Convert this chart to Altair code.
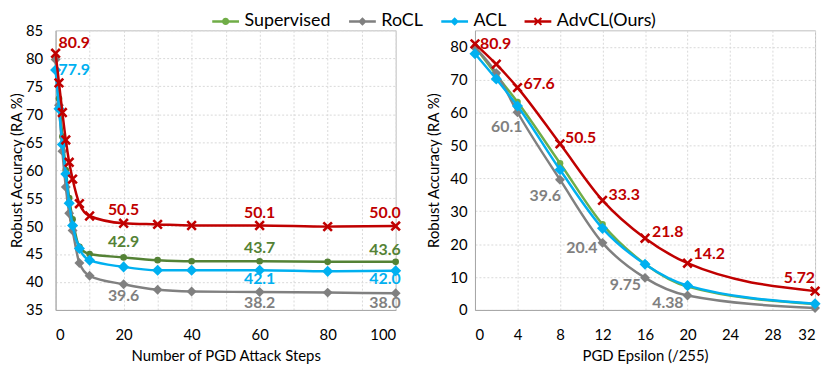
import altair as alt
import pandas as pd

series = ["Supervised", "RoCL", "ACL", "AdvCL(Ours)"]

# ---- left panel: number of PGD attack steps ----
steps = [0, 1, 2, 3, 4, 5, 7, 10, 20, 30, 40, 60, 80, 100]
steps_supervised = [80.0, 72.8, 66.0, 60.0, 55.0, 51.2, 46.3, 45.0, 44.4, 43.9, 43.7, 43.7, 43.6, 43.6]
steps_rocl = [79.8, 71.6, 63.4, 57.0, 52.3, 49.2, 43.4, 41.1, 39.6, 38.6, 38.3, 38.2, 38.1, 38.0]
steps_acl = [77.9, 71.0, 64.6, 59.3, 54.1, 50.1, 46.0, 43.9, 42.7, 42.1, 42.1, 42.1, 41.9, 42.0]
steps_advcl = [80.9, 75.6, 70.3, 65.4, 61.4, 58.4, 54.0, 51.8, 50.5, 50.3, 50.1, 50.1, 49.9, 50.0]

steps_label_series = ["AdvCL(Ours)", "ACL", "AdvCL(Ours)", "AdvCL(Ours)", "AdvCL(Ours)",
                      "Supervised", "Supervised", "Supervised", "ACL", "ACL", "RoCL", "RoCL", "RoCL"]
steps_label_x = [0, 0, 20, 60, 100, 20, 60, 100, 60, 100, 20, 60, 100]
steps_label_text = ["80.9", "77.9", "50.5", "50.1", "50.0", "42.9", "43.7", "43.6",
                    "42.1", "42.0", "39.6", "38.2", "38.0"]

# ---- right panel: PGD epsilon ----
eps = [0, 2, 4, 8, 12, 16, 20, 32]
eps_supervised = [80.0, 71.5, 63.2, 44.6, 26.0, 14.0, 7.1, 1.8]
eps_rocl = [79.8, 72.0, 60.1, 39.6, 20.4, 9.75, 4.38, 0.6]
eps_acl = [77.9, 70.2, 62.0, 42.6, 24.8, 13.9, 7.4, 1.9]
eps_advcl = [80.9, 74.7, 67.6, 50.5, 33.3, 21.8, 14.2, 5.72]

eps_label_series = ["AdvCL(Ours)"] * 7 + ["RoCL"] * 5
eps_label_x = [0, 4, 8, 12, 16, 20, 32, 4, 8, 12, 16, 20]
eps_label_text = ["80.9", "67.6", "50.5", "33.3", "21.8", "14.2", "5.72",
                  "60.1", "39.6", "20.4", "9.75", "4.38"]

# ---- styles ----
FONT = "Lato"
legend_colors = ["#70AD47", "#808080", "#00B0F0", "#C00000"]
left_colors = ["#548235", "#808080", "#00B0F0", "#C00000"]
right_colors = ["#70AD47", "#808080", "#00B0F0", "#C00000"]
label_colors = {"Supervised": "#548235", "RoCL": "#808080", "ACL": "#00B0F0", "AdvCL(Ours)": "#C00000"}

X_PATH = ("M-1,-0.65L-0.65,-1L0,-0.35L0.65,-1L1,-0.65L0.35,0L1,0.65L0.65,1L0,0.35"
          "L-0.65,1L-1,0.65L-0.35,0Z")
point_style = {
    "Supervised": dict(shape="circle", size=45),
    "RoCL": dict(shape="diamond", size=100),
    "ACL": dict(shape="diamond", size=125),
    "AdvCL(Ours)": dict(shape=X_PATH, size=110),
}

# legend symbol paths (line + marker), written in pixels, scaled to symbol radius
LEG_R = 5.0


def fmt(v):
    return f"{v / LEG_R:.3f}"


def poly(pts):
    return "M" + "L".join(f"{fmt(x)},{fmt(y)}" for x, y in pts) + "Z"


bar = poly([(-13.5, -1.25), (13.5, -1.25), (13.5, 1.25), (-13.5, 1.25)])
circ_r = 3.6
circle = (f"M{fmt(-circ_r)},0A{fmt(circ_r)},{fmt(circ_r)} 0 1,1 {fmt(circ_r)},0"
          f"A{fmt(circ_r)},{fmt(circ_r)} 0 1,1 {fmt(-circ_r)},0Z")
diamond = poly([(0, -4.3), (4.3, 0), (0, 4.3), (-4.3, 0)])
a, t = 4.2, 1.4
xmark = poly([(-a, -a + t), (-a + t, -a), (0, -t), (a - t, -a), (a, -a + t), (t, 0),
              (a, a - t), (a - t, a), (0, t), (-a + t, a), (-a, a - t), (-t, 0)])
legend_paths = [bar + circle, bar + diamond, bar + diamond, bar + xmark]

left_place = {
    ("AdvCL(Ours)", 0): ("left", 3, -10),
    ("ACL", 0): ("left", 3, 0),
    ("AdvCL(Ours)", 20): ("center", 0, -13),
    ("AdvCL(Ours)", 60): ("center", 0, -13),
    ("AdvCL(Ours)", 100): ("right", 5, -13),
    ("Supervised", 20): ("center", 0, -15),
    ("Supervised", 60): ("center", 0, -13),
    ("Supervised", 100): ("right", 5, -12),
    ("ACL", 60): ("center", 0, 9),
    ("ACL", 100): ("right", 5, 8),
    ("RoCL", 20): ("center", 0, 12),
    ("RoCL", 60): ("center", 0, 11),
    ("RoCL", 100): ("right", 5, 10),
}
right_place = {
    ("AdvCL(Ours)", 0): ("left", 5, 0),
    ("AdvCL(Ours)", 4): ("left", 6, -4),
    ("AdvCL(Ours)", 8): ("left", 5, -6),
    ("AdvCL(Ours)", 12): ("left", 6, -5),
    ("AdvCL(Ours)", 16): ("left", 7, -6),
    ("AdvCL(Ours)", 20): ("left", 6, -9),
    ("AdvCL(Ours)", 32): ("right", 0, -13),
    ("RoCL", 4): ("right", 5, 15),
    ("RoCL", 8): ("right", 1, 17),
    ("RoCL", 12): ("right", -5, 5),
    ("RoCL", 16): ("right", -4, 7),
    ("RoCL", 20): ("right", -4, 8),
}


def panel(xs, ys_list, colors, lab_series, lab_x, lab_text, place,
          xdomain, xticks, ydomain, yticks, xtitle, lab_pad_y, title_pad_y, with_legend):
    xenc = alt.X("x:Q", scale=alt.Scale(domain=xdomain, nice=False, zero=False),
                 axis=alt.Axis(values=xticks, title=xtitle, labelPadding=18, titlePadding=6))
    yenc = alt.Y("y:Q", scale=alt.Scale(domain=ydomain, nice=False, zero=False),
                 axis=alt.Axis(values=yticks, title="Robust Accuracy (RA %)",
                               labelPadding=lab_pad_y, titlePadding=title_pad_y))
    layers = []
    for s, vals, c in zip(series, ys_list, colors):
        df = pd.DataFrame({"x": xs, "y": vals})
        layers.append(alt.Chart(df).mark_line(color=c, strokeWidth=2.5, interpolate="monotone")
                      .encode(x=xenc, y=yenc))
        ps = point_style[s]
        layers.append(alt.Chart(df).mark_point(filled=True, opacity=1, color=c,
                                               shape=ps["shape"], size=ps["size"])
                      .encode(x=xenc, y=yenc))
    lookup = dict(zip(series, ys_list))
    for s, xv, txt in zip(lab_series, lab_x, lab_text):
        yv = lookup[s][xs.index(xv)]
        align, dx, dy = place[(s, xv)]
        df = pd.DataFrame({"x": [xv], "y": [yv], "t": [txt]})
        layers.append(alt.Chart(df).mark_text(font=FONT, fontSize=16, fontWeight="bold",
                                              color=label_colors[s], align=align,
                                              baseline="middle", dx=dx, dy=dy)
                      .encode(x=xenc, y=yenc, text="t:N"))
    if with_legend:
        leg = alt.Legend(orient="none", direction="horizontal", legendX=154, legendY=-18,
                         title=None, symbolSize=LEG_R * LEG_R * 4, symbolOpacity=1,
                         symbolStrokeWidth=0, symbolOffset=8.5,
                         labelFont=FONT, labelFontSize=18, labelColor="#000000",
                         labelOffset=10, columnPadding=14, labelLimit=300)
        ldf = pd.DataFrame({"series": series})
        layers.append(alt.Chart(ldf).mark_point(filled=True, opacity=0).encode(
            fill=alt.Fill("series:N", scale=alt.Scale(domain=series, range=legend_colors), legend=leg),
            shape=alt.Shape("series:N", scale=alt.Scale(domain=series, range=legend_paths), legend=leg),
        ))
    return alt.layer(*layers).properties(width=343, height=282)


left = panel(steps, [steps_supervised, steps_rocl, steps_acl, steps_advcl], left_colors,
             steps_label_series, steps_label_x, steps_label_text, left_place,
             [0, 100], list(range(0, 101, 10)), [35, 85], list(range(35, 86, 5)),
             "Number of PGD Attack Steps", 13, 1, True)
right = panel(eps, [eps_supervised, eps_rocl, eps_acl, eps_advcl], right_colors,
              eps_label_series, eps_label_x, eps_label_text, right_place,
              [0, 32], list(range(0, 33, 4)), [0, 85], list(range(0, 81, 10)),
              "PGD Epsilon (/255)", 8, 8, False)

chart = alt.hconcat(left, right, spacing=80, bounds="flush").properties(
    padding={"left": 1, "top": 3, "right": 0, "bottom": 0}
).configure_view(stroke="#BFBFBF", strokeWidth=1).configure_axis(
    labelFont=FONT, labelFontSize=15, labelColor="#000000",
    titleFont=FONT, titleFontSize=15, titleFontWeight="normal", titleColor="#000000",
    ticks=False, grid=True, gridColor="#D9D9D9", gridDash=[2, 2],
    domainColor="#A6A6A6", domainWidth=1,
)

chart.save("out.html", embed_options={"renderer": "svg", "actions": False})
